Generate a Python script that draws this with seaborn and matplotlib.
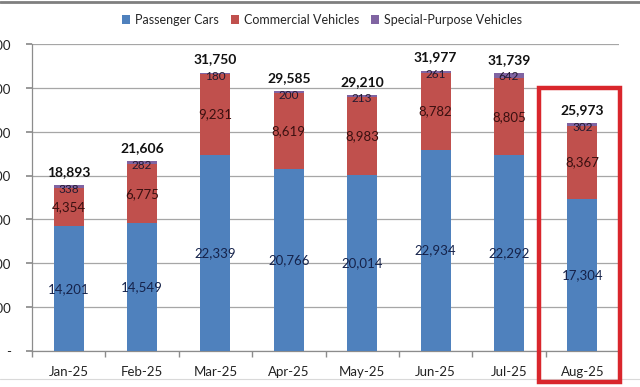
import numpy as np
import pandas as pd
import seaborn as sns
import matplotlib.pyplot as plt
from matplotlib.patches import Patch, Rectangle
from matplotlib.lines import Line2D

# monthly vehicle sales, stacked by segment
months = ["Jan-25", "Feb-25", "Mar-25", "Apr-25", "May-25", "Jun-25", "Jul-25", "Aug-25"]
passenger = [14201, 14549, 22339, 20766, 20014, 22934, 22292, 17304]
commercial = [4354, 6775, 9231, 8619, 8983, 8782, 8805, 8367]
special = [338, 282, 180, 200, 213, 261, 642, 302]

series_names = ["Passenger Cars", "Commercial Vehicles", "Special-Purpose Vehicles"]
colors = ["#4F81BD", "#C0504D", "#8064A2"]
yticks = [0, 5000, 10000, 15000, 20000, 25000, 30000, 35000]

df = pd.DataFrame({"month": months, "pc": passenger, "cv": commercial, "sp": special})
df["pc_cv"] = df["pc"] + df["cv"]
df["total"] = df["pc_cv"] + df["sp"]

sns.set_theme(style="white")
plt.rcParams["font.family"] = ["Lato", "DejaVu Sans"]

fig = plt.figure(figsize=(6.4, 3.87), dpi=100)
ax = fig.add_axes([32 / 640, 36 / 387, 587 / 640, 307 / 387])

# layered bars: total -> passenger+commercial -> passenger
bar_kw = dict(width=0.41, saturation=1, ax=ax, zorder=3, edgecolor="none", linewidth=0)
sns.barplot(data=df, x="month", y="total", color=colors[2], **bar_kw)
sns.barplot(data=df, x="month", y="pc_cv", color=colors[1], **bar_kw)
sns.barplot(data=df, x="month", y="pc", color=colors[0], **bar_kw)

for i, row in df.iterrows():
    ax.text(i, row["pc"] / 2, f"{row['pc']:,}", ha="center", va="center",
            fontsize=9.5, color="#15224a", zorder=4)
    ax.text(i, row["pc"] + row["cv"] / 2, f"{row['cv']:,}", ha="center", va="center",
            fontsize=9.5, color="#3a1010", zorder=4)
    ax.annotate(f"{row['sp']:,}", (i, row["total"]), xytext=(0, -3),
                textcoords="offset points", ha="center", va="center",
                fontsize=8.5, color="#231a30", zorder=4)
    ax.annotate(f"{row['total']:,}", (i, row["total"]), xytext=(0, 5),
                textcoords="offset points", ha="center", va="bottom",
                fontsize=10, fontweight="bold", color="#111111", zorder=4)

ax.set_ylim(0, 35000)
ax.set_xlim(-0.5, len(months) - 0.5)
ax.set_yticks(yticks)
ax.set_yticklabels(["-"] + [f"{v:,}" for v in yticks[1:]])
ax.yaxis.grid(True, color="#a6a6a6", linewidth=0.9, zorder=0)
ax.set_axisbelow(True)
ax.set_xlabel("")
ax.set_ylabel("")

for s in ["top", "right"]:
    ax.spines[s].set_visible(False)
for s in ["left", "bottom"]:
    ax.spines[s].set_color("#8c8c8c")
    ax.spines[s].set_linewidth(0.9)

ax.tick_params(axis="y", left=True, length=4, color="#8c8c8c", labelsize=9.5,
               labelcolor="#222222", pad=11)
ax.tick_params(axis="x", bottom=False, labelsize=9.5, labelcolor="#222222", pad=5)
ax.set_xticks(np.arange(-0.5, len(months)), minor=True)
ax.tick_params(axis="x", which="minor", bottom=True, length=4, color="#8c8c8c")

handles = [Patch(facecolor=c, edgecolor="none", label=n) for c, n in zip(colors, series_names)]
fig.legend(handles=handles, loc="center", bbox_to_anchor=(322 / 640, 1 - 20 / 387),
           ncol=3, frameon=False, fontsize=9, handlelength=0.65, handleheight=0.65,
           handletextpad=0.35, columnspacing=1.0)

# highlight box round the latest month
fig.patches.append(Rectangle((539 / 640, 5 / 387), 81 / 640, 294 / 387,
                             transform=fig.transFigure, fill=False,
                             edgecolor="#d9262c", linewidth=3.2, zorder=10))

# thin frame lines at top and bottom of the picture
fig.lines.append(Line2D([0, 1], [1 - 1.5 / 387] * 2, transform=fig.transFigure,
                        color="#7f7f7f", linewidth=2))
fig.lines.append(Line2D([0, 1], [8 / 387] * 2, transform=fig.transFigure,
                        color="#d9d9d9", linewidth=0.8))

fig.savefig("out.png", dpi=100)
